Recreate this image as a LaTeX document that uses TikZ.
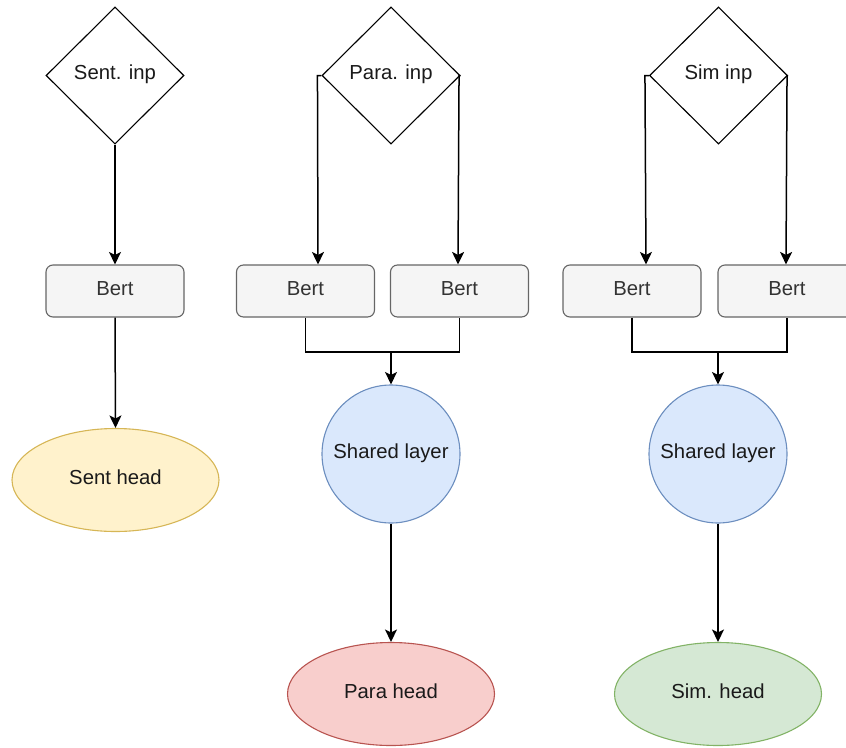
\documentclass[tikz,border=0pt]{standalone}
\usepackage{fontspec}
\setmainfont{Liberation Sans}
\usetikzlibrary{shapes.geometric,arrows.meta}
\definecolor{bertfill}{HTML}{F5F5F5}
\definecolor{bertline}{HTML}{666666}
\definecolor{berttext}{HTML}{333333}
\definecolor{bluefill}{HTML}{DAE8FC}
\definecolor{blueline}{HTML}{6C8EBF}
\definecolor{yelfill}{HTML}{FFF2CC}
\definecolor{yelline}{HTML}{D6B656}
\definecolor{redfill}{HTML}{F8CECC}
\definecolor{redline}{HTML}{B85450}
\definecolor{grnfill}{HTML}{D5E8D4}
\definecolor{grnline}{HTML}{82B366}
\definecolor{txt}{HTML}{1A1A1A}
\tikzset{
  every node/.style={font=\fontsize{20.3}{24}\selectfont, text=txt, inner sep=0pt, text height=14.5pt, text depth=6pt},
  inpbox/.style={shape=diamond, draw=black, line width=1.1pt, fill=white, minimum width=138pt, minimum height=137pt},
  bertbox/.style={shape=rectangle, draw=bertline, fill=bertfill, text=berttext, rounded corners=7pt, line width=1.1pt, minimum width=138pt, minimum height=52pt},
  shared/.style={shape=circle, draw=blueline, fill=bluefill, line width=1.1pt, minimum size=138pt},
  headbox/.style={shape=ellipse, line width=1.1pt, minimum width=207pt, minimum height=103pt},
  conn/.style={draw=black, line width=1.5pt},
  arr/.style={conn, -{Stealth[length=12.5pt,width=12pt,inset=3pt]}}
}
\begin{document}
\begin{tikzpicture}[x=1pt,y=-1pt]
\useasboundingbox (0,0) rectangle (846,747);
\clip (0,0) rectangle (846,747);
% Sentence branch
\node[inpbox] (sd) at (115,75.5) {Sent. inp};
\node[bertbox] (sb) at (115,291) {Bert};
\node[headbox, draw=yelline, fill=yelfill] (sh) at (115.5,480) {Sent head};
\draw[arr] (sd.south) -- (sb.north);
\draw[arr] (sb.south) -- (sh.north);
% Paraphrase branch
\node[inpbox] (pd) at (391,75.5) {Para. inp};
\node[bertbox] (pbl) at (305.5,291) {Bert};
\node[bertbox] (pbr) at (459.5,291) {Bert};
\node[shared] (pc) at (391,454) {Shared layer};
\node[headbox, draw=redline, fill=redfill] (ph) at (391,694) {Para head};
\coordinate (pj) at (391,352);
\draw[arr] (pd.west) -- ++(-4,0) -- ([xshift=12.5pt]pbl.north);
\draw[arr] (pd.east) -- ++(-1.5,0) -- ([xshift=-1.5pt]pbr.north);
\draw[conn] (pbl.south) |- (pj) -| (pbr.south);
\draw[arr] (pj) -- (pc.north);
\draw[arr] (pc.south) -- (ph.north);
% Similarity branch
\node[inpbox] (md) at (718.5,75.5) {Sim inp};
\node[bertbox] (mbl) at (632,291) {Bert};
\node[bertbox] (mbr) at (787,291) {Bert};
\node[shared] (mc) at (718,454) {Shared layer};
\node[headbox, draw=grnline, fill=grnfill] (mh) at (718,694) {Sim. head};
\coordinate (mj) at (718,352);
\draw[arr] (md.west) -- ++(-4,0) -- ([xshift=14pt]mbl.north);
\draw[arr] (md.east) -- ++(-1,0) -- ([xshift=-1pt]mbr.north);
\draw[conn] (mbl.south) |- (mj) -| (mbr.south);
\draw[arr] (mj) -- (mc.north);
\draw[arr] (mc.south) -- (mh.north);
\end{tikzpicture}
\end{document}
